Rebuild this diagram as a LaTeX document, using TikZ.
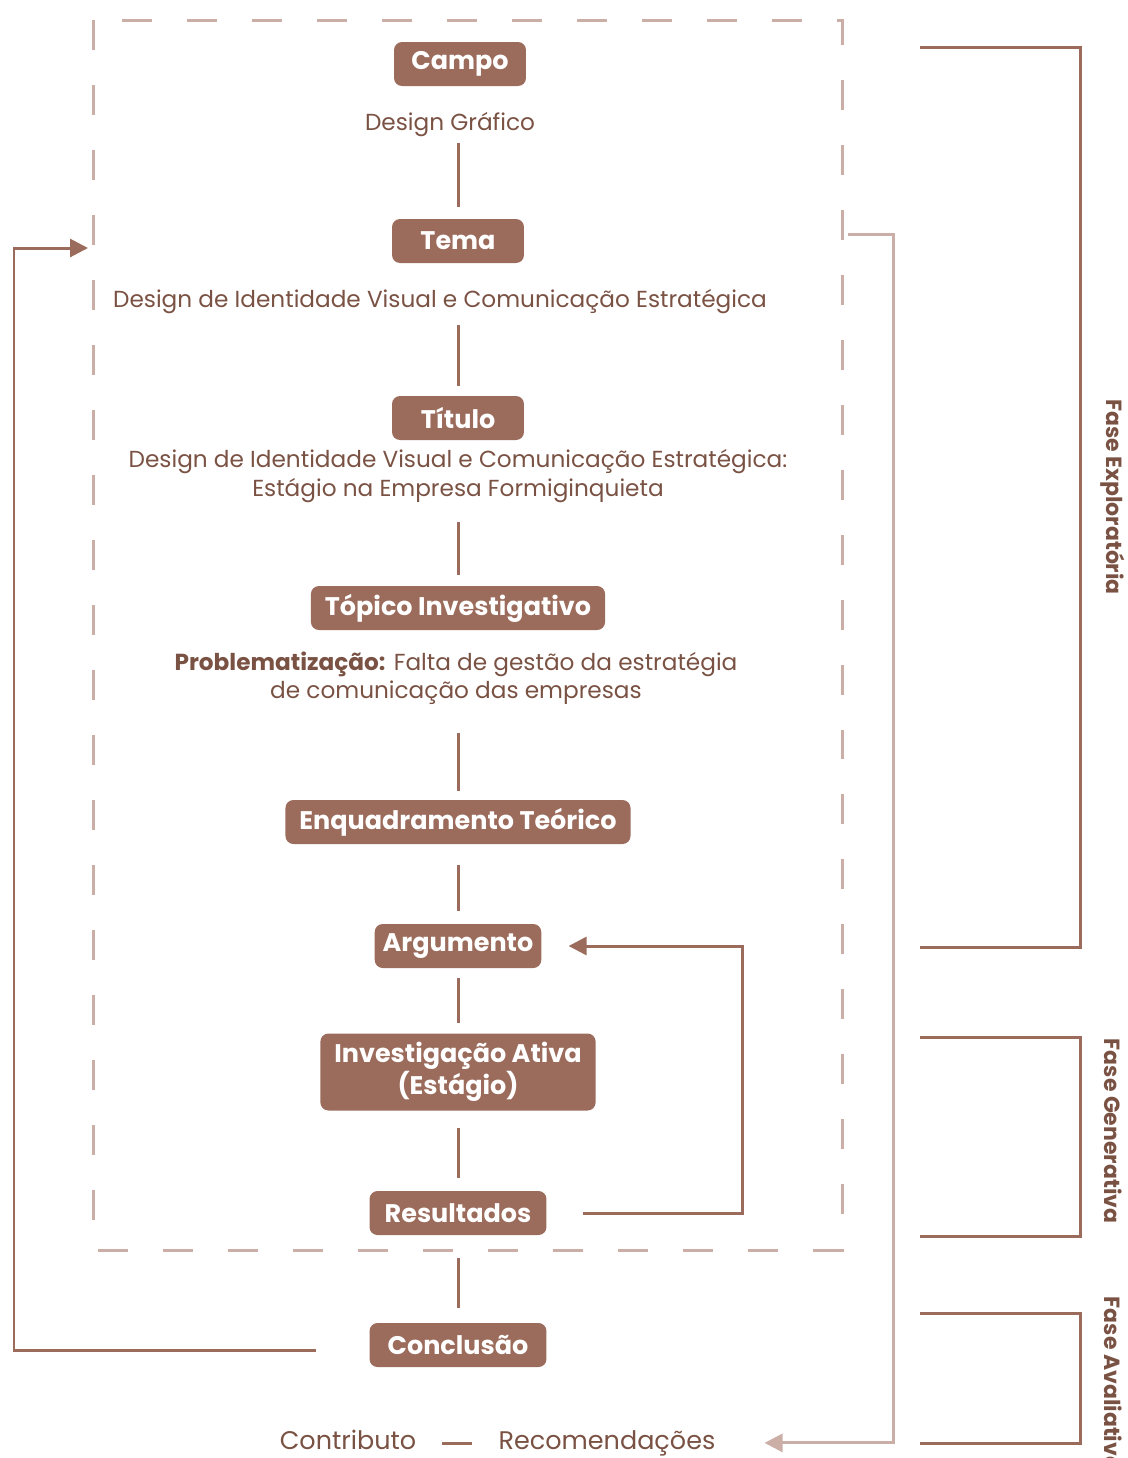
\documentclass[tikz,border=0pt]{standalone}
\usepackage{fontspec}
\setmainfont{Poppins}
\usetikzlibrary{arrows.meta}
\definecolor{boxbrown}{HTML}{9B6B5C}
\definecolor{textbrown}{HTML}{7A5244}
\definecolor{palebrown}{HTML}{CBAEA5}

\begin{document}
\begin{tikzpicture}[x=0.02cm,y=-0.02cm,text=textbrown,font=\fontsize{13.2}{16}\selectfont]
    \tikzstyle{stage}=[rectangle,rounded corners=0.16cm,fill=boxbrown,text=white,
        font=\fontsize{14.5}{16.4}\selectfont\bfseries,minimum width=2.64cm,
        minimum height=0.88cm,inner xsep=0.28cm,align=center]
    \tikzstyle{note}=[align=center]
    \tikzstyle{outcome}=[anchor=base,font=\fontsize{14.5}{17}\selectfont]
    \tikzstyle{link}=[draw=boxbrown,line width=0.06cm]
    \tikzstyle{flow}=[link,-{Triangle[length=0.36cm,width=0.36cm]}]
    \tikzstyle{paleflow}=[flow,draw=palebrown]
    \tikzstyle{frame}=[draw=palebrown,line width=0.06cm,dash pattern=on 0.6cm off 0.7cm]
    \tikzstyle{phase}=[rotate=-90,font=\fontsize{12.5}{14}\selectfont\bfseries]

    \useasboundingbox (0,0) rectangle (1127,1458);

    % Dashed frame round the research steps
    \draw[frame] (93,20) rectangle (842,1250);

    % Draw the steps
    \node[stage] (campo) at (460,64) {Campo};
    \node[note] (campotxt) at (450,125) {Design Gráfico};
    \node[stage] (tema) at (458,241) {Tema};
    \node[note] (tematxt) at (440,302) {Design de Identidade Visual e Comunicação Estratégica};
    \node[stage] (titulo) at (458,418) {Título};
    \node[note] (titulotxt) at (458,476) {Design de Identidade Visual e Comunicação Estratégica:\\Estágio na Empresa Formiginquieta};
    \node[stage] (topico) at (458,608) {Tópico Investigativo};
    \node[note] (topicotxt) at (456,678) {\textbf{Problematização:} Falta de gestão da estratégia\\de comunicação das empresas};
    \node[stage] (enquad) at (458,822) {Enquadramento Teórico};
    \node[stage,inner xsep=0.16cm] (argum) at (458,946) {Argumento};
    \node[stage,minimum height=1.54cm] (invest) at (458,1072) {Investigação Ativa\\(Estágio)};
    \node[stage,minimum width=3.54cm] (result) at (458,1213) {Resultados};
    \node[stage,minimum width=3.54cm] (concl) at (458,1345) {Conclusão};
    \node[outcome] (contrib) at (348,1449) {Contributo};
    \node[outcome] (recom) at (607,1449) {Recomendações};

    % Connect the steps
    \draw[link,shorten >=0.24cm] (campotxt.south -| tema) -- (tema.north);
    \draw[link,shorten <=0.1cm,shorten >=0.2cm] (tematxt.south -| titulo) -- (titulo.north);
    \draw[link,shorten <=0.28cm,shorten >=0.22cm] (titulotxt.south -| topico) -- (topico.north);
    \draw[link,shorten <=0.44cm,shorten >=0.18cm] (topicotxt.south -| enquad) -- (enquad.north);
    \draw[link,shorten <=0.42cm,shorten >=0.26cm] (enquad) -- (argum);
    \draw[link,shorten <=0.2cm,shorten >=0.2cm] (argum) -- (invest);
    \draw[link,shorten <=0.34cm,shorten >=0.26cm] (invest) -- (result);
    \draw[link,shorten <=0.46cm,shorten >=0.3cm] (result) -- (concl);
    \draw[link,shorten <=0.4cm,shorten >=0.4cm] ([yshift=0.12cm]contrib.base east) -- ([yshift=0.12cm]recom.base west);

    % Feedback loops
    \coordinate (conclout) at (316,1350);
    \coordinate (loopin) at (88,248);
    \coordinate (frameout) at (848,234);
    \draw[flow] (conclout) -- (14,1350) |- (loopin);
    \draw[flow] ([xshift=0.72cm]result.east) -- ++(160,0) |- ([xshift=0.54cm]argum.east);
    \draw[paleflow] (frameout) -- (893,234) |- ([xshift=0.86cm]recom.east);

    % Phases
    \draw[link] (920,47) -| (1080,947) -- (920,947);
    \draw[link] (920,1037) -| (1080,1236) -- (920,1236);
    \draw[link] (920,1313) -| (1080,1443) -- (920,1443);
    \node[phase] (explor) at (1113,497) {Fase Exploratória};
    \node[phase] (gener) at (1113,1131) {Fase Generativa};
    \node[phase] (aval) at (1113,1384) {Fase Avaliativa};
\end{tikzpicture}
\end{document}
